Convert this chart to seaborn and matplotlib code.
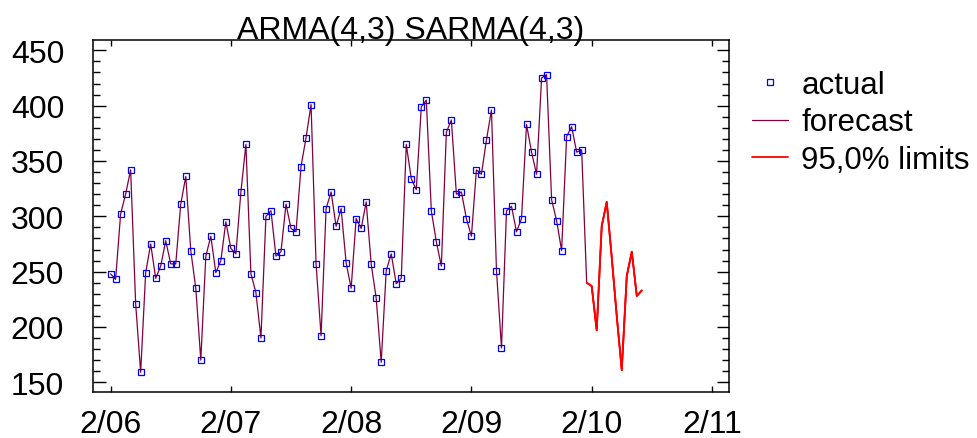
import numpy as np
import pandas as pd
import matplotlib
matplotlib.use("Agg")
import matplotlib.pyplot as plt
from matplotlib.ticker import MultipleLocator, FixedLocator, FixedFormatter
import seaborn as sns

# Observed series (semi-monthly periods starting 2/06)
actual = [248, 243, 302, 320, 342, 221, 159, 249, 275, 244, 255, 278,
          257, 257, 311, 336, 269, 235, 170, 264, 282, 249, 260, 295,
          271, 266, 322, 365, 248, 231, 190, 300, 305, 264, 268, 311,
          289, 286, 345, 371, 401, 257, 192, 307, 322, 291, 307, 258,
          235, 298, 289, 313, 257, 226, 168, 251, 266, 239, 244, 365,
          334, 324, 399, 405, 305, 277, 255, 376, 387, 320, 322, 298,
          282, 342, 338, 369, 396, 251, 181, 305, 309, 286, 298, 383,
          358, 338, 425, 428, 315, 296, 269, 372, 381, 358, 360]

# Out-of-sample forecasts
forecast_ahead = [240, 237, 197, 291, 313, 263, 210, 161, 246, 268, 228, 233]

# 95% limits (they lie on top of the forecast at this scale)
limit_upper = [240, 237, 197, 291, 313, 263, 210, 161, 246, 268, 228, 233]
limit_lower = [240, 237, 197, 291, 313, 263, 210, 161, 246, 268, 228, 233]

year_ticks = [0, 24, 48, 72, 96, 120]
year_labels = ["2/06", "2/07", "2/08", "2/09", "2/10", "2/11"]

n_act = len(actual)
t_act = np.arange(n_act)
t_fc = np.arange(n_act, n_act + len(forecast_ahead))

df_act = pd.DataFrame({"t": t_act, "value": actual})
df_fc = pd.DataFrame({"t": np.concatenate([t_act, t_fc]),
                      "value": actual + forecast_ahead})
df_up = pd.DataFrame({"t": t_fc, "value": limit_upper})
df_lo = pd.DataFrame({"t": t_fc, "value": limit_lower})

sns.set_style("white")
plt.rcParams["font.family"] = ["Liberation Sans", "DejaVu Sans"]
plt.rcParams["text.color"] = "black"

fig = plt.figure(figsize=(9.78, 4.39), dpi=100)
ax = fig.add_axes([92.7 / 978, 1 - 392.7 / 439, (729 - 92.7) / 978, (392.7 - 40.7) / 439])

fc_color = "#800040"
sns.lineplot(data=df_fc, x="t", y="value", ax=ax, color=fc_color, lw=0.9,
             label="forecast", zorder=2)
sns.lineplot(data=df_up, x="t", y="value", ax=ax, color="#ff0000", lw=1.3,
             label="95,0% limits", zorder=3)
sns.lineplot(data=df_lo, x="t", y="value", ax=ax, color="#ff0000", lw=1.3,
             zorder=3)
sns.lineplot(data=df_act, x="t", y="value", ax=ax, linestyle="", marker="s",
             markersize=4, markerfacecolor="none", markeredgecolor="#0000ff",
             markeredgewidth=0.9, label="actual", zorder=4)

ax.set_xlim(-3.57, 123.4)
ax.set_ylim(141.5, 459.6)
ax.set_xlabel("")
ax.set_ylabel("")

ax.xaxis.set_major_locator(FixedLocator(year_ticks))
ax.xaxis.set_major_formatter(FixedFormatter(year_labels))
ax.yaxis.set_major_locator(MultipleLocator(50))
ax.yaxis.set_minor_locator(MultipleLocator(10))

for side in ["left", "right", "top", "bottom"]:
    ax.spines[side].set_visible(True)
    ax.spines[side].set_color("black")
    ax.spines[side].set_linewidth(1.1)

ax.tick_params(axis="x", which="major", direction="in", length=4.5, width=1.0,
               top=True, bottom=True, labelsize=23, pad=12.5, colors="black")
ax.tick_params(axis="y", which="major", direction="in", length=9, width=1.0,
               left=True, right=True, labelsize=23, pad=20.5, colors="black")
ax.tick_params(axis="y", which="minor", direction="in", length=5, width=1.0,
               left=True, right=True, colors="black")

ax.set_title("ARMA(4,3) SARMA(4,3)", fontsize=23, pad=1, color="black")

h, l = ax.get_legend_handles_labels()
order = [l.index("actual"), l.index("forecast"), l.index("95,0% limits")]
ax.legend([h[i] for i in order], [l[i] for i in order],
          loc="upper left", bbox_to_anchor=(752 / 978, 1 - 71 / 439),
          bbox_transform=fig.transFigure, frameon=False, fontsize=22.5,
          labelcolor="black",
          handlelength=1.15, handletextpad=0.43, labelspacing=0.24,
          borderpad=0, borderaxespad=0)

fig.savefig("out.png", dpi=100)
